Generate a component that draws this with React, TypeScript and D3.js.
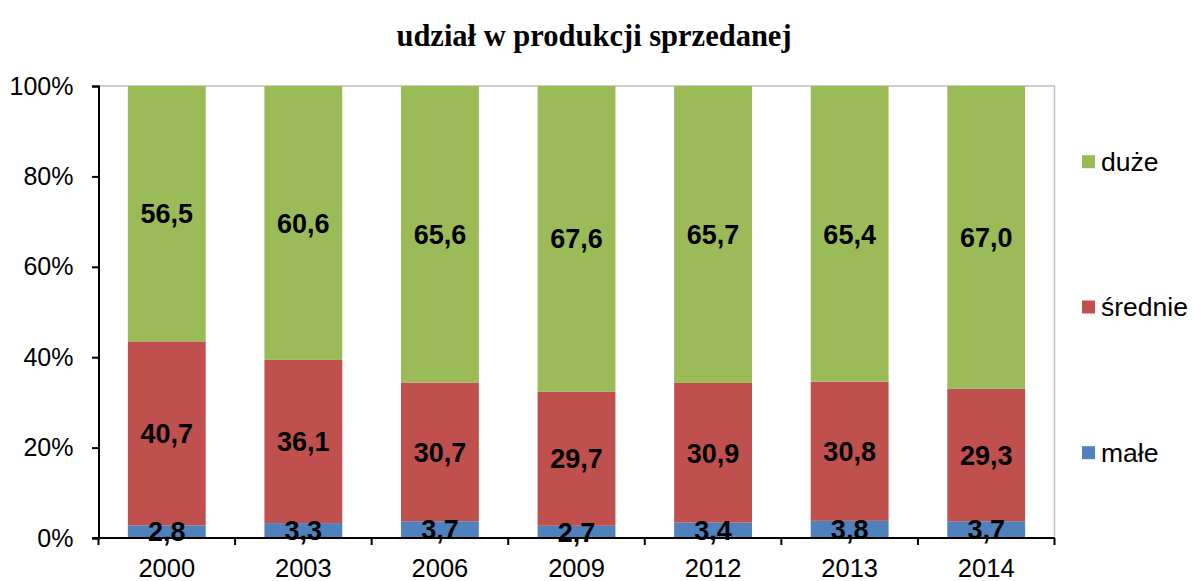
import { useEffect, useRef } from "react"
import * as d3 from "d3"

const YEARS = ["2000", "2003", "2006", "2009", "2012", "2013", "2014"]
const MALE = [2.8, 3.3, 3.7, 2.7, 3.4, 3.8, 3.7]
const SREDNIE = [40.7, 36.1, 30.7, 29.7, 30.9, 30.8, 29.3]
const DUZE = [56.5, 60.6, 65.6, 67.6, 65.7, 65.4, 67.0]
const SERIES = ["małe", "średnie", "duże"]
const LEGEND_ORDER = ["duże", "średnie", "małe"]
const Y_TICKS = [0, 20, 40, 60, 80, 100]

const COLORS: Record<string, string> = {
  "małe":    "#4F81BD",
  "średnie": "#C0504D",
  "duże":    "#9BBB59",
}

const W = 1192
const H = 581
const M_L = 98.5
const M_R = 1054.5
const M_T = 86
const M_B = 538
const FONT = "Arial, 'Liberation Sans', sans-serif"

export default function App() {
  const svgRef = useRef<SVGSVGElement>(null)

  useEffect(() => {
    if (!svgRef.current) return
    const svg = d3.select(svgRef.current)
    svg.selectAll("*").remove()

    const rows = YEARS.map((y, i) => ({
      year: y,
      "małe": MALE[i],
      "średnie": SREDNIE[i],
      "duże": DUZE[i],
    }))
    const stacked = d3.stack<any>().keys(SERIES)(rows)

    const x = d3.scaleBand().domain(YEARS).range([M_L, M_R]).paddingInner(0.43).paddingOuter(0.215)
    const y = d3.scaleLinear().domain([0, 100]).range([M_B, M_T])

    // title
    svg.append("text")
      .attr("x", W / 2 - 2).attr("y", 46)
      .attr("text-anchor", "middle")
      .attr("font-family", "'Liberation Serif', 'Times New Roman', serif")
      .attr("font-weight", "bold")
      .attr("font-size", 30.5)
      .text("udział w produkcji sprzedanej")

    // plot border (top & right)
    svg.append("path")
      .attr("d", `M${M_L},${M_T}H${M_R}V${M_B}`)
      .attr("fill", "none")
      .attr("stroke", "#BFBFBF")
      .attr("stroke-width", 1.5)

    // bars
    stacked.forEach((layer) => {
      svg.append("g")
        .selectAll("rect")
        .data(layer)
        .join("rect")
        .attr("x", (d: any) => x(d.data.year)!)
        .attr("width", x.bandwidth())
        .attr("y", (d) => y(d[1]))
        .attr("height", (d) => y(d[0]) - y(d[1]))
        .attr("fill", COLORS[layer.key])
    })

    // y axis
    const yAxis = svg.append("g")
      .attr("transform", `translate(${M_L},0)`)
      .call(d3.axisLeft(y).tickValues(Y_TICKS).tickSize(6.5).tickPadding(18.5).tickFormat((d) => `${d}%`))
    yAxis.select(".domain").attr("stroke", "#000").attr("stroke-width", 2)
    yAxis.selectAll(".tick line").attr("stroke", "#000").attr("stroke-width", 2)
    yAxis.selectAll(".tick text")
      .attr("fill", "#000").attr("font-size", 25).attr("font-family", FONT)

    // x axis
    const step = x.step()
    const xAxis = svg.append("g").attr("transform", `translate(0,${M_B})`)
    xAxis.append("line")
      .attr("x1", M_L - 6.5).attr("x2", M_R)
      .attr("stroke", "#000").attr("stroke-width", 2)
    xAxis.selectAll("line.tk")
      .data(d3.range(YEARS.length + 1).map((i) => M_L + i * step))
      .join("line")
      .attr("class", "tk")
      .attr("x1", (d) => d).attr("x2", (d) => d)
      .attr("y1", 0).attr("y2", 7)
      .attr("stroke", "#000").attr("stroke-width", 2)
    xAxis.selectAll("text")
      .data(YEARS)
      .join("text")
      .attr("x", (d) => x(d)! + x.bandwidth() / 2)
      .attr("y", 39)
      .attr("text-anchor", "middle")
      .attr("font-size", 25.5)
      .attr("font-family", FONT)
      .text((d) => d)

    // data labels
    stacked.forEach((layer) => {
      svg.append("g")
        .selectAll("text")
        .data(layer)
        .join("text")
        .attr("x", (d: any) => x(d.data.year)! + x.bandwidth() / 2)
        .attr("y", (d) => (y(d[0]) + y(d[1])) / 2)
        .attr("dy", "0.36em")
        .attr("text-anchor", "middle")
        .attr("font-size", 27)
        .attr("font-weight", "bold")
        .attr("font-family", FONT)
        .text((d) => (d[1] - d[0]).toFixed(1).replace(".", ","))
    })

    // legend
    const legendY: Record<string, number> = { "duże": 161.7, "średnie": 307, "małe": 452.7 }
    const lg = svg.append("g")
    LEGEND_ORDER.forEach((k) => {
      lg.append("rect")
        .attr("x", 1082).attr("y", legendY[k] - 6.5)
        .attr("width", 13).attr("height", 13)
        .attr("fill", COLORS[k])
      lg.append("text")
        .attr("x", 1101).attr("y", legendY[k])
        .attr("dy", "0.35em")
        .attr("font-size", 26.5)
        .attr("font-family", FONT)
        .text(k)
    })
  }, [])

  return (
    <svg
      ref={svgRef}
      width={W}
      height={H}
      style={{ position: "absolute", left: 0, top: 0, background: "#fff" }}
    />
  )
}
